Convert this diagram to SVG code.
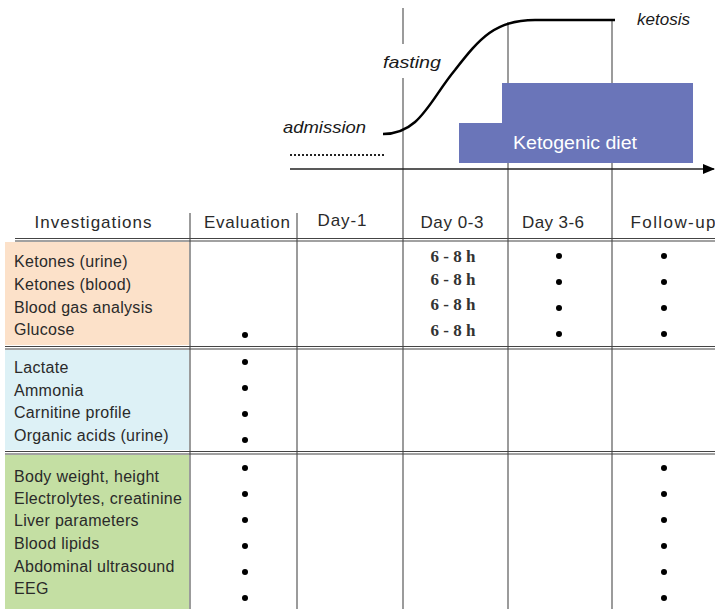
<svg xmlns="http://www.w3.org/2000/svg" width="715" height="609" viewBox="0 0 715 609">
<defs>
<style>
.lbl{font-family:"Liberation Sans",Arial,sans-serif;font-size:16px;letter-spacing:0.3px;fill:#2a2a2a}
.hdr{font-family:"Liberation Sans",Arial,sans-serif;font-size:17px;fill:#2a2a2a;text-anchor:middle}
.it{font-family:"Liberation Sans",Arial,sans-serif;font-size:17px;font-style:italic;fill:#1a1a1a}
.hrs{font-family:"Liberation Serif","Times New Roman",serif;font-size:17px;font-weight:bold;fill:#333;text-anchor:middle}
.vl{stroke:#7a7a7a;stroke-width:1.5;fill:none}
.hl{stroke:#444;stroke-width:1.2;fill:none}
.dot{fill:#000}
</style>
<marker id="arr" markerWidth="12" markerHeight="10" refX="11" refY="5" orient="auto" markerUnits="userSpaceOnUse">
<path d="M0,0 L12,5 L0,10 Z" fill="#000"/>
</marker>
</defs>
<rect width="715" height="609" fill="#fff"/>

<g id="sections">
<rect x="5" y="242" width="184" height="103" fill="#FCE1C9"/>
<rect x="5" y="350" width="184" height="100" fill="#DDF1F6"/>
<rect x="5" y="455" width="184" height="154" fill="#C4DFA3"/>
</g>

<g id="grid">
<line class="vl" x1="190" y1="213" x2="190" y2="609"/>
<line class="vl" x1="297" y1="213" x2="297" y2="609"/>
<line class="vl" x1="403" y1="8" x2="403" y2="44"/>
<line class="vl" x1="403" y1="78" x2="403" y2="609"/>
<line class="vl" x1="508" y1="22" x2="508" y2="609"/>
<line class="vl" x1="612" y1="20" x2="612" y2="609"/>
<line class="hl" x1="15" y1="238.5" x2="715" y2="238.5"/>
<line class="hl" x1="15" y1="241" x2="715" y2="241"/>
<line class="hl" x1="5" y1="346.5" x2="715" y2="346.5"/>
<line class="hl" x1="5" y1="349" x2="715" y2="349"/>
<line class="hl" x1="5" y1="451.5" x2="715" y2="451.5"/>
<line class="hl" x1="5" y1="454" x2="715" y2="454"/>
</g>

<g id="ketogenic-diet">
<path d="M459,123 L502,123 L502,83 L693,83 L693,163 L459,163 Z" fill="#6A75B9"/>
<text x="513" y="149" textLength="124" lengthAdjust="spacingAndGlyphs" style="font-family:'Liberation Sans',Arial,sans-serif;font-size:18px;fill:#fff">Ketogenic diet</text>
</g>

<g id="timeline">
<line x1="290" y1="155" x2="385" y2="155" stroke="#222" stroke-width="2.2" stroke-dasharray="2,2"/>
<line x1="290" y1="169" x2="714" y2="169" stroke="#222" stroke-width="1.5" marker-end="url(#arr)"/>
<path d="M383,134 C420,134 430,100 455,70 C480,38 495,20 535,20 L615,20" fill="none" stroke="#000" stroke-width="2.5"/>
<text class="it" x="283" y="133" textLength="83" lengthAdjust="spacingAndGlyphs">admission</text>
<text class="it" x="383" y="68" textLength="58" lengthAdjust="spacingAndGlyphs">fasting</text>
<text class="it" x="637" y="25" textLength="53" lengthAdjust="spacingAndGlyphs">ketosis</text>
</g>

<g id="header">
<text class="hdr" x="93" y="228" textLength="117" lengthAdjust="spacing">Investigations</text>
<text class="hdr" x="247" y="228" textLength="86" lengthAdjust="spacing">Evaluation</text>
<text class="hdr" x="342" y="226" textLength="49" lengthAdjust="spacing">Day-1</text>
<text class="hdr" x="452" y="228" textLength="63" lengthAdjust="spacing">Day 0-3</text>
<text class="hdr" x="553" y="228" textLength="62" lengthAdjust="spacing">Day 3-6</text>
<text class="hdr" x="673" y="228" textLength="85" lengthAdjust="spacing">Follow-up</text>
</g>

<g id="group-ketones">
<text class="lbl" x="14" y="267">Ketones (urine)</text>
<text class="lbl" x="14" y="290">Ketones (blood)</text>
<text class="lbl" x="14" y="313">Blood gas analysis</text>
<text class="lbl" x="14" y="335">Glucose</text>
<circle class="dot" cx="245" cy="335" r="3"/>
<text class="hrs" x="453" y="262">6 - 8 h</text>
<text class="hrs" x="453" y="285">6 - 8 h</text>
<text class="hrs" x="453" y="310">6 - 8 h</text>
<text class="hrs" x="453" y="336">6 - 8 h</text>
<circle class="dot" cx="559" cy="256" r="3"/>
<circle class="dot" cx="559" cy="282" r="3"/>
<circle class="dot" cx="559" cy="308" r="3"/>
<circle class="dot" cx="559" cy="334" r="3"/>
<circle class="dot" cx="664" cy="256" r="3"/>
<circle class="dot" cx="664" cy="282" r="3"/>
<circle class="dot" cx="664" cy="308" r="3"/>
<circle class="dot" cx="664" cy="334" r="3"/>
</g>

<g id="group-metabolic">
<text class="lbl" x="14" y="373">Lactate</text>
<text class="lbl" x="14" y="396">Ammonia</text>
<text class="lbl" x="14" y="418">Carnitine profile</text>
<text class="lbl" x="14" y="441">Organic acids (urine)</text>
<circle class="dot" cx="245" cy="362" r="3"/>
<circle class="dot" cx="245" cy="388" r="3"/>
<circle class="dot" cx="245" cy="414" r="3"/>
<circle class="dot" cx="245" cy="440" r="3"/>
</g>

<g id="group-general">
<text class="lbl" x="14" y="482">Body weight, height</text>
<text class="lbl" x="14" y="504">Electrolytes, creatinine</text>
<text class="lbl" x="14" y="526">Liver parameters</text>
<text class="lbl" x="14" y="549">Blood lipids</text>
<text class="lbl" x="14" y="572">Abdominal ultrasound</text>
<text class="lbl" x="14" y="594">EEG</text>
<circle class="dot" cx="245" cy="468" r="3"/>
<circle class="dot" cx="245" cy="494" r="3"/>
<circle class="dot" cx="245" cy="520" r="3"/>
<circle class="dot" cx="245" cy="546" r="3"/>
<circle class="dot" cx="245" cy="572" r="3"/>
<circle class="dot" cx="245" cy="598" r="3"/>
<circle class="dot" cx="664" cy="468" r="3"/>
<circle class="dot" cx="664" cy="494" r="3"/>
<circle class="dot" cx="664" cy="520" r="3"/>
<circle class="dot" cx="664" cy="546" r="3"/>
<circle class="dot" cx="664" cy="572" r="3"/>
<circle class="dot" cx="664" cy="598" r="3"/>
</g>
</svg>
